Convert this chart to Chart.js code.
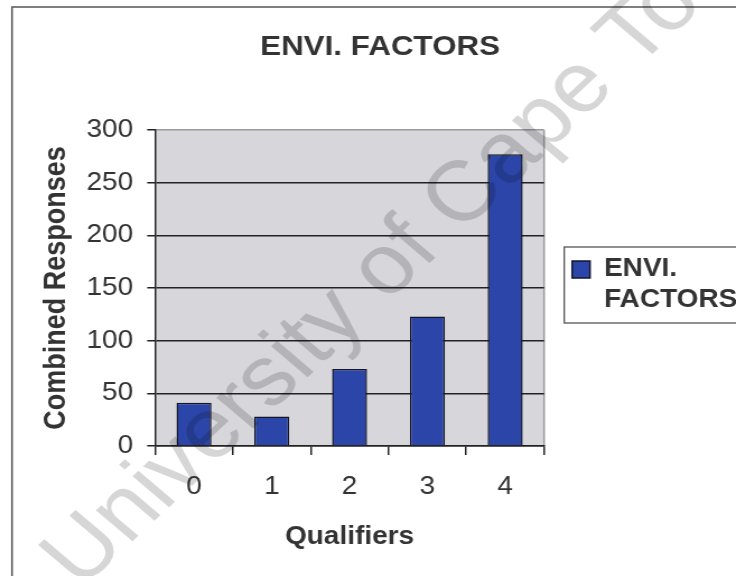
<!DOCTYPE html>
<html>
<head>
<meta charset="utf-8">
<script src="https://cdn.jsdelivr.net/npm/chart.js@4.4.1/dist/chart.umd.min.js"></script>
<style>
  html, body { margin: 0; padding: 0; background: #fff; overflow: hidden; }
  /* the chart is laid out on a 657px canvas and widened to the 736px page */
  #wrap { width: 657px; height: 576px; transform: scaleX(1.1202); transform-origin: 0 0; }
</style>
</head>
<body>
<div id="wrap"><canvas id="c" width="657" height="576"></canvas></div>
<script>
const categories = ['0', '1', '2', '3', '4'];
const responses = [41, 28, 73, 123, 277];
const seriesName = 'ENVI. FACTORS';
const legendLines = ['ENVI.', 'FACTORS'];
const chartTitle = 'ENVI. FACTORS';
const xTitle = 'Qualifiers';
const yTitle = 'Combined Responses';
const yMin = 0, yMax = 300, yStep = 50;
const watermark = 'University of Cape Town';

const FONT = '"Liberation Sans", Arial, Helvetica, sans-serif';
Chart.defaults.font.family = FONT;

// white page, grey plot panel, panel right edge and the outer frame
const backdrop = {
  id: 'backdrop',
  beforeDraw(chart) {
    const { ctx, chartArea: a, width, height } = chart;
    ctx.save();
    ctx.fillStyle = '#ffffff';
    ctx.fillRect(0, 0, width, height);
    ctx.fillStyle = '#d7d7db';
    ctx.fillRect(a.left, a.top, a.right - a.left, a.bottom - a.top);
    ctx.strokeStyle = '#9a9a9a';
    ctx.lineWidth = 1.5;
    ctx.beginPath();
    ctx.moveTo(a.right, a.top);
    ctx.lineTo(a.right, a.bottom);
    ctx.stroke();
    ctx.strokeStyle = '#555555';
    ctx.beginPath();
    ctx.moveTo(10.7, height);
    ctx.lineTo(10.7, 7);
    ctx.lineTo(width, 7);
    ctx.stroke();
    ctx.restore();
  }
};

// box around the legend entry
const legendFrame = {
  id: 'legendFrame',
  afterDraw(chart) {
    const hb = chart.legend && chart.legend.legendHitBoxes && chart.legend.legendHitBoxes[0];
    if (!hb) return;
    const { ctx } = chart;
    ctx.save();
    ctx.strokeStyle = '#555555';
    ctx.lineWidth = 1.3;
    ctx.strokeRect(hb.left - 7, hb.top - 10, chart.width, 76);
    ctx.restore();
  }
};

// faint diagonal overprint text
const overprint = {
  id: 'overprint',
  afterDraw(chart) {
    const { ctx } = chart;
    ctx.save();
    ctx.globalCompositeOperation = 'multiply';
    ctx.fillStyle = '#d6d6d6';
    ctx.font = '85px ' + FONT;
    ctx.textAlign = 'left';
    ctx.textBaseline = 'alphabetic';
    ctx.translate(72, 590);
    ctx.rotate(-46.4 * Math.PI / 180);
    ctx.fillText(watermark, 0, 0);
    ctx.restore();
  }
};

new Chart(document.getElementById('c'), {
  type: 'bar',
  data: {
    labels: categories,
    datasets: [{
      label: seriesName,
      data: responses,
      backgroundColor: '#2b45a8',
      borderColor: '#15152a',
      borderWidth: 1.5,
      categoryPercentage: 0.5,
      barPercentage: 0.9
    }]
  },
  options: {
    responsive: false,
    animation: false,
    devicePixelRatio: 1,
    layout: { padding: { left: 21.6, right: 0, top: 0, bottom: 0 } },
    plugins: {
      title: {
        display: true,
        text: chartTitle,
        color: '#333333',
        font: { size: 28, weight: 'bold' },
        padding: { top: 30.2, bottom: 66.2 }
      },
      legend: {
        position: 'right',
        align: 'center',
        maxWidth: 171.3,
        labels: {
          color: '#333333',
          font: { size: 25, weight: 'bold', lineHeight: 1.24 },
          boxWidth: 16,
          boxHeight: 17,
          padding: 25,
          generateLabels(chart) {
            const items = Chart.defaults.plugins.legend.labels.generateLabels(chart);
            items.forEach(it => { it.text = legendLines; });
            return items;
          }
        }
      },
      tooltip: { enabled: false }
    },
    scales: {
      x: {
        grid: { display: true, offset: true, drawOnChartArea: false, drawTicks: true, tickLength: 9, color: '#222222', lineWidth: 1.5 },
        border: { display: true, color: '#222222', width: 1.5 },
        ticks: { color: '#333333', font: { size: 25 }, padding: 17 },
        title: { display: true, text: xTitle, color: '#333333', font: { size: 25, weight: 'bold' }, padding: { top: 0, bottom: 24 } },
        afterFit(scale) { scale.height = 130; }
      },
      y: {
        min: yMin,
        max: yMax,
        ticks: { stepSize: yStep, color: '#333333', font: { size: 25 }, padding: 12.5 },
        grid: {
          color: c => (c.tick && c.tick.value === yMax) ? '#9a9a9a' : '#222222',
          tickColor: '#222222',
          lineWidth: 1.5,
          tickLength: 7
        },
        border: { color: '#222222', width: 1.5 },
        title: { display: true, text: yTitle, color: '#333333', font: { size: 27, weight: 'bold' }, padding: { top: 13.1, bottom: 0 } },
        afterFit(scale) { scale.width = 116.8; }
      }
    }
  },
  plugins: [backdrop, legendFrame, overprint]
});
</script>
</body>
</html>
